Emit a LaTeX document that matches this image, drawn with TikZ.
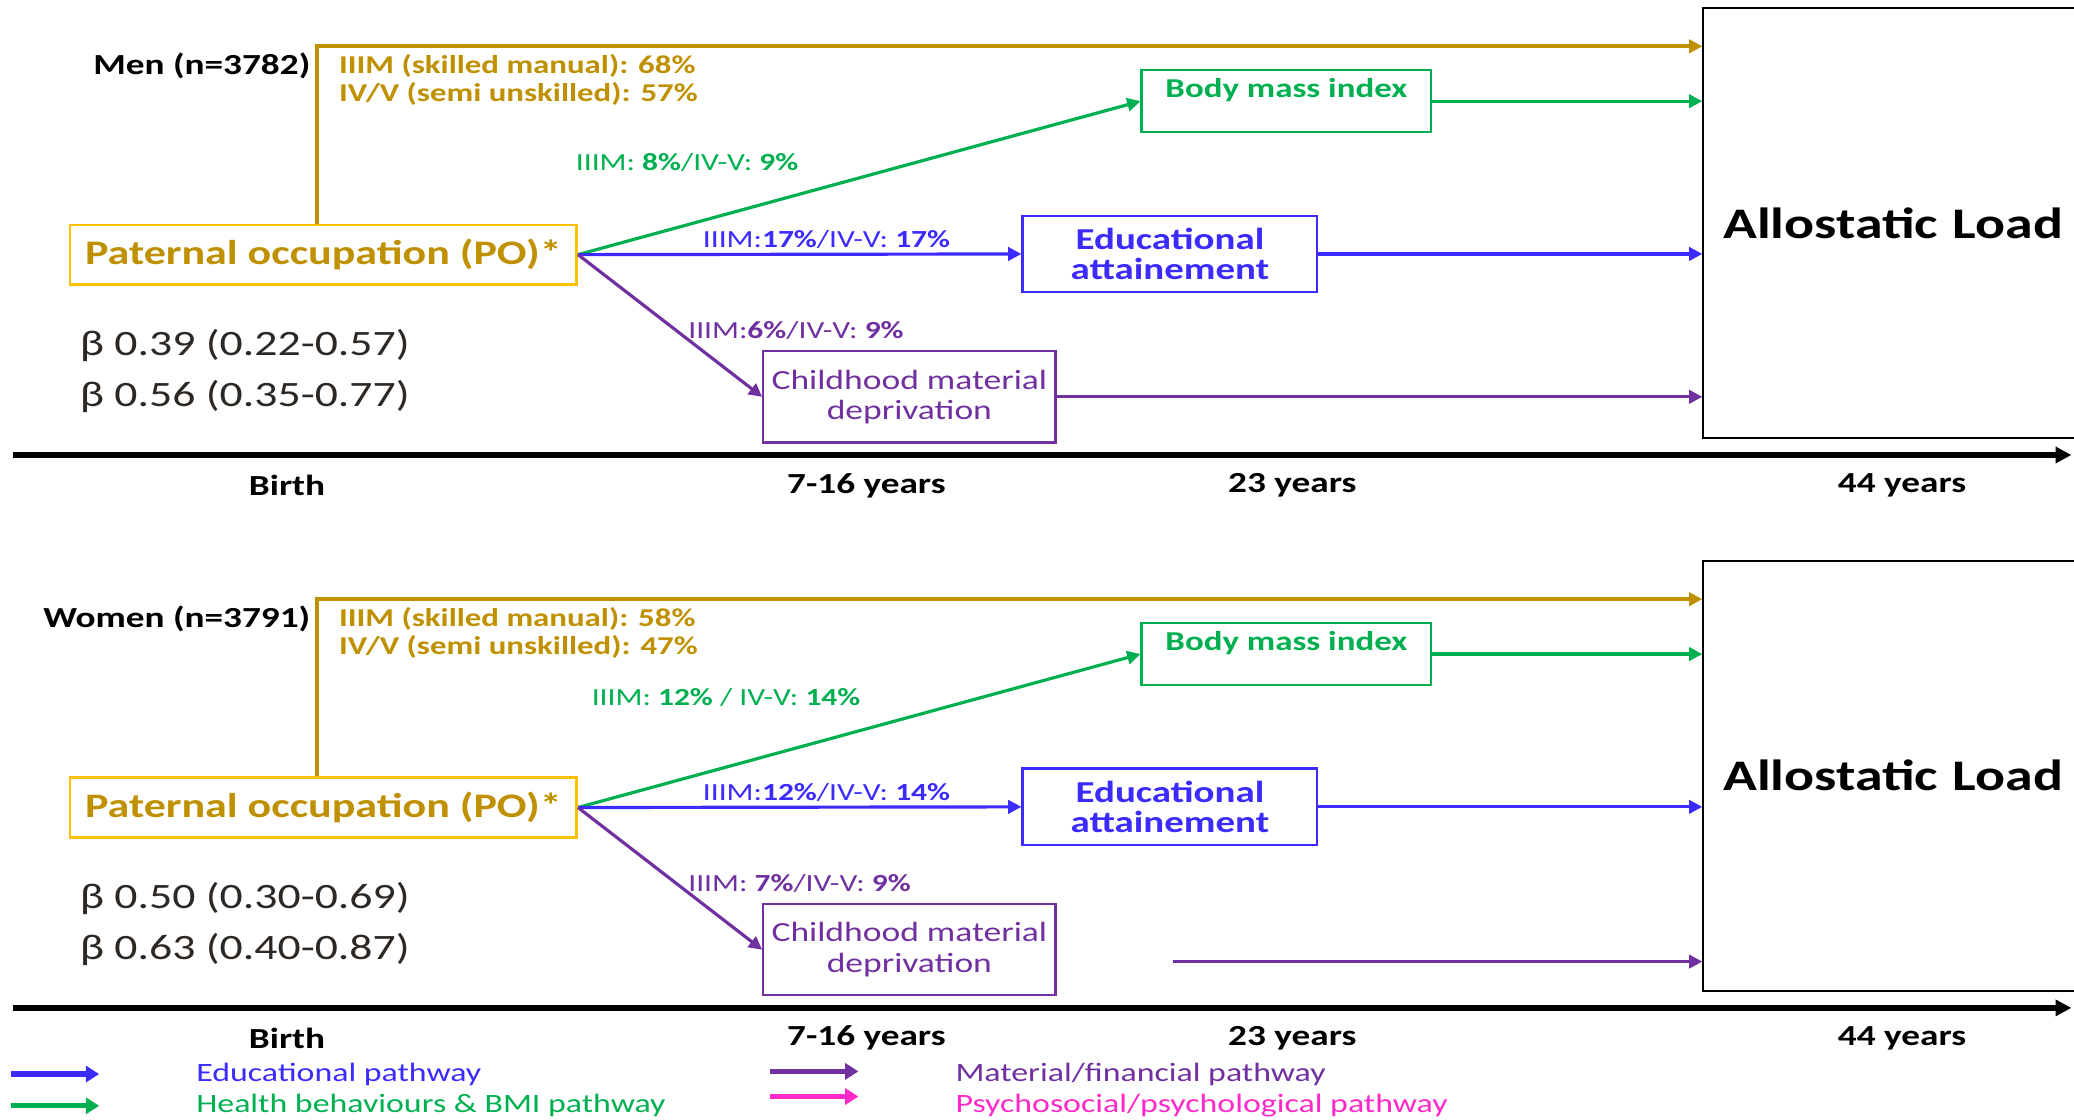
\documentclass[tikz,border=0pt]{standalone}
\usepackage{fontspec}
\setmainfont{Carlito}[FakeStretch=1.28]
\usetikzlibrary{arrows.meta}
\definecolor{gold}{RGB}{191,144,0}
\definecolor{boxgold}{RGB}{255,192,0}
\definecolor{pgreen}{RGB}{0,176,80}
\definecolor{pblue}{RGB}{59,43,255}
\definecolor{ppurple}{RGB}{112,48,160}
\definecolor{ppink}{RGB}{255,40,200}
\definecolor{betagrey}{RGB}{45,40,35}

\begin{document}
\begin{tikzpicture}[x=0.5pt,y=-0.5pt,%
	pobox/.style={draw=boxgold,line width=1pt,text=gold,font=\fontsize{13}{15}\selectfont\bfseries,minimum width=191.5pt,minimum height=22.5pt,inner sep=0pt},
	bmibox/.style={draw=pgreen,line width=0.8pt,text=pgreen,font=\fontsize{10.3}{12}\selectfont\bfseries,minimum width=109.5pt,inner xsep=0pt,inner ysep=2.5pt,text height=8pt,text depth=10.5pt},
	edubox/.style={draw=pblue,line width=0.8pt,text=pblue,align=center,font=\fontsize{11.5}{11.5}\selectfont\bfseries,minimum width=111.5pt,minimum height=29pt,inner sep=0pt},
	matbox/.style={draw=ppurple,line width=0.8pt,text=ppurple,align=center,font=\fontsize{10.5}{11.5}\selectfont,minimum width=110.5pt,minimum height=34.5pt,inner sep=0pt},
	alload/.style={draw=black,line width=0.8pt,font=\fontsize{16.5}{18}\selectfont\bfseries,minimum height=162.5pt,text width=135pt,align=left,inner xsep=7.5pt},
	grouplab/.style={font=\fontsize{11}{13}\selectfont\bfseries,inner sep=0pt},
	goldtxt/.style={text=gold,align=left,font=\fontsize{9.7}{10.5}\selectfont\bfseries,inner sep=0pt},
	pctlab/.style={font=\fontsize{9.3}{11}\selectfont,inner sep=0pt},
	betatxt/.style={text=betagrey,align=left,font=\fontsize{13.5}{19.5}\selectfont,inner sep=0pt},
	agelab/.style={font=\fontsize{11}{13}\selectfont\bfseries,inner sep=0pt},
	keytxt/.style={font=\fontsize{10}{12}\selectfont,inner sep=0pt},
	path/.style={-{Triangle[length=5pt,width=5pt]},line width=1.2pt},
	goldpath/.style={path,gold,line width=1.5pt},
	keyarrow/.style={-{Triangle[length=5pt,width=6pt]},line width=2pt},
	axis/.style={-{Triangle[length=6pt,width=6pt]},line width=2pt}]

	\useasboundingbox (0,0) rectangle (1568,846);

	% one panel per group
	\foreach \p/\dy/\who/\ga/\gb/\lgx/\lgy/\tg/\tb/\tp/\ba/\bb in {%
		1/0/{Men (n=3782)}/68/57/435/123/{IIIM: \textbf{8\%}/IV-V: \textbf{9\%}}/{IIIM:\textbf{17\%}/IV-V: \textbf{17\%}}/{IIIM:\textbf{6\%}/IV-V: \textbf{9\%}}/{0.39 (0.22-0.57)}/{0.56 (0.35-0.77)},%
		2/418/{Women (n=3791)}/58/47/447/527/{IIIM: \textbf{12\%} / IV-V: \textbf{14\%}}/{IIIM:\textbf{12\%}/IV-V: \textbf{14\%}}/{IIIM: \textbf{7\%}/IV-V: \textbf{9\%}}/{0.50 (0.30-0.69)}/{0.63 (0.40-0.87)}%
	} {
		\node[pobox] (po\p) at (244.5,192.5+\dy) {Paternal occupation (PO)*};
		\node[bmibox] (bmi\p) at (972.5,76.5+\dy) {Body mass index};
		\node[edubox] (edu\p) at (884.5,192+\dy) {Educational\\attainement};
		\node[matbox] (mat\p) at (687.5,300+\dy) {Childhood material\\deprivation};
		\node[alload,anchor=west] (al\p) at (1287,168.5+\dy) {Allostatic Load};
		\node[grouplab,anchor=east] (who\p) at (235,50+\dy) {\who};
		\node[goldtxt,anchor=west] (gt\p) at (256,60.5+\dy) {IIIM (skilled manual): \ga\%\\IV/V (semi unskilled): \gb\%};
		\node[pctlab,text=pgreen,anchor=west] (lg\p) at (\lgx,\lgy) {\tg};
		\node[pctlab,text=pblue,anchor=west] (lb\p) at (531,181+\dy) {\tb};
		\node[pctlab,text=ppurple,anchor=west] (lp\p) at (520,250+\dy) {\tp};
		\node[betatxt,anchor=west] (beta\p) at (60,280.5+\dy) {β \ba\\β \bb};

		\coordinate (gc\p) at (240,35+\dy);
		\draw[goldpath] (po\p.north -| gc\p) |- (al\p.west |- gc\p);
		\draw[path,pgreen] (po\p.east) -- (bmi\p.west);
		\draw[path,pblue] (po\p.east) -- (edu\p.west);
		\draw[path,ppurple] (po\p.east) -- (mat\p.west);
		\draw[path,pgreen] (bmi\p.east) -- (bmi\p.east -| al\p.west);
		\draw[path,pblue] (edu\p.east) -- (edu\p.east -| al\p.west);
		\ifnum\p=1 \draw[path,ppurple] (mat\p.east) -- (mat\p.east -| al\p.west);
		\else \coordinate (ms\p) at (887,309+\dy);
		      \draw[path,ppurple] (ms\p) -- (ms\p -| al\p.west);
		\fi

		% time line
		\coordinate (ax\p) at (10,344+\dy);
		\coordinate (axe\p) at (1566,344+\dy);
		\draw[axis] (ax\p) -- (axe\p);
		\foreach \t/\tx [count=\i] in {Birth/217,7-16 years/655,23 years/977,44 years/1438}
			\node[agelab] (age\p-\i) at (\tx,367+\dy) {\t};
	}

	% legend
	\foreach \c/\x/\y/\ty/\t [count=\i] in {%
		pblue/8/812/812/Educational pathway,%
		pgreen/8/836/836/Health behaviours \& BMI pathway,%
		ppurple/582/810/812/{Material/financial pathway},%
		ppink/582/829/836/{Psychosocial/psychological pathway}%
	} {
		\coordinate (k\i) at (\x,\y);
		\coordinate (ke\i) at (\x+67,\y);
		\draw[keyarrow,\c] (k\i) -- (ke\i);
		\node[keytxt,text=\c,anchor=west] (kt\i) at (\x+140,\ty) {\t};
	}
\end{tikzpicture}
\end{document}
